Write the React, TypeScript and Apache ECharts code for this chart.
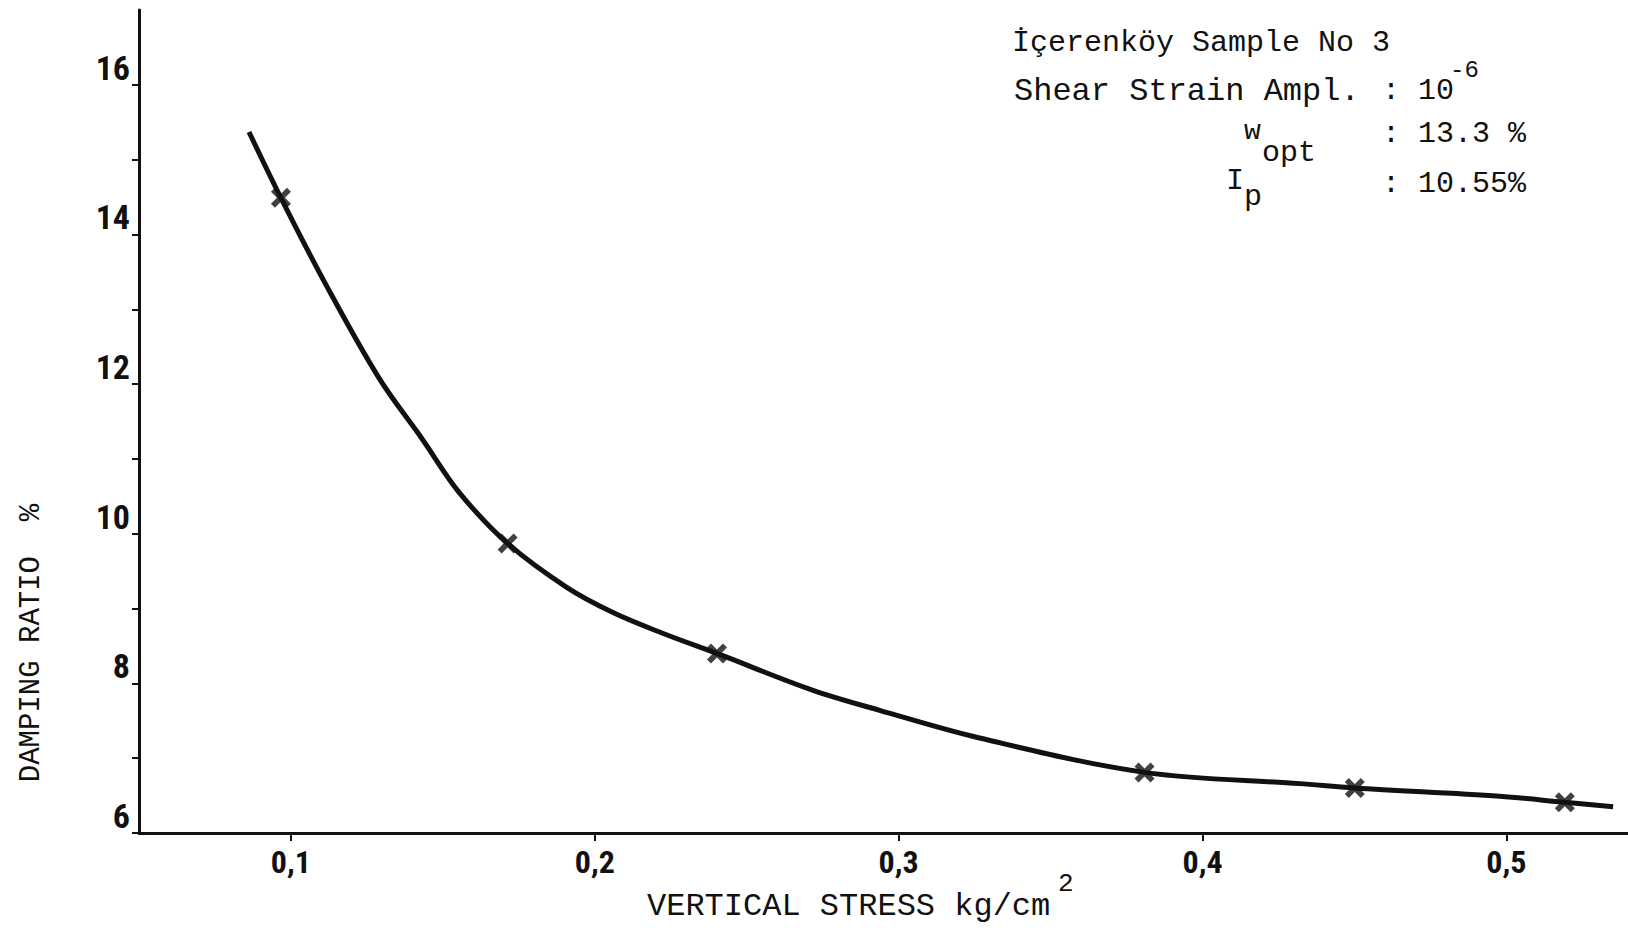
import React, { useEffect, useRef } from "react";
import * as echarts from "echarts";

// Curve (hand-drawn smooth line)
const curveX = [0.0862, 0.0967, 0.1115, 0.129, 0.1433, 0.1554, 0.1713, 0.1905, 0.2058, 0.2223, 0.2402, 0.2716, 0.2937, 0.3266, 0.3809, 0.4319, 0.4501, 0.4978, 0.5192, 0.5351];
const curveY = [15.37, 14.49, 13.33, 12.08, 11.26, 10.55, 9.87, 9.29, 8.95, 8.67, 8.4, 7.91, 7.64, 7.27, 6.81, 6.66, 6.6, 6.49, 6.41, 6.35];

// Measured points (× markers)
const pointX = [0.0967, 0.1713, 0.2402, 0.3809, 0.4501, 0.5192];
const pointY = [14.49, 9.87, 8.4, 6.81, 6.6, 6.41];

// Axes
const xTickValues = [0.1, 0.2, 0.3, 0.4, 0.5];
const yTickValues = [6, 7, 8, 9, 10, 11, 12, 13, 14, 15, 16];
const yLabelValues = [6, 8, 10, 12, 14, 16];

const xAxisTitle = "VERTICAL STRESS kg/cm";
const yAxisTitle = "DAMPING RATIO  %";
const noteTitle = "İçerenköy Sample No 3";
const noteStrain = "Shear Strain Ampl.";

const MONO = "'Liberation Mono', 'DejaVu Sans Mono', monospace";
const HAND = "'Roboto Condensed', 'Liberation Sans Narrow', Roboto, sans-serif";
const INK = "#111";

function txt(text: string, x: number, y: number, size: number, extra: any = {}) {
  return {
    type: "text",
    x,
    y,
    silent: true,
    ...extra,
    style: {
      text,
      fontFamily: MONO,
      fontSize: size,
      fill: INK,
      textAlign: extra.align || "left",
      align: extra.align || "left",
      textVerticalAlign: "middle",
      verticalAlign: "middle",
    },
  };
}

export default function App() {
  const ref = useRef<HTMLDivElement>(null);
  useEffect(() => {
    if (!ref.current) return;
    const chart = echarts.init(ref.current, null, { renderer: "svg" });
    const xSym = "path://M0,2L2,0L5,3L8,0L10,2L7,5L10,8L8,10L5,7L2,10L0,8L3,5Z";
    chart.setOption({
      animation: false,
      backgroundColor: "#ffffff",
      grid: { left: 139, right: 0, top: 10, bottom: 97, containLabel: false },
      xAxis: {
        type: "value",
        min: 0.05,
        max: 0.54,
        splitLine: { show: false },
        axisLine: { show: true, onZero: false, lineStyle: { color: INK, width: 3 } },
        axisTick: { show: true, customValues: xTickValues, length: 8, lineStyle: { color: INK, width: 2 } },
        axisLabel: {
          customValues: xTickValues,
          margin: 13,
          color: INK,
          fontFamily: HAND,
          fontWeight: "bold",
          fontSize: 32,
          formatter: (v: number) => v.toFixed(1).replace(".", ","),
        },
      },
      yAxis: {
        type: "value",
        min: 6,
        max: 17,
        splitLine: { show: false },
        axisLine: { show: true, onZero: false, lineStyle: { color: INK, width: 3 } },
        axisTick: { show: true, customValues: yTickValues, length: 7, lineStyle: { color: INK, width: 2 } },
        axisLabel: {
          customValues: yLabelValues,
          margin: 9,
          color: INK,
          fontFamily: HAND,
          fontWeight: "bold",
          fontSize: 34,
          verticalAlign: "bottom",
          formatter: (v: number) => String(v),
        },
      },
      series: [
        {
          type: "line",
          data: curveX.map((x, i) => [x, curveY[i]]),
          smooth: 0.35,
          showSymbol: false,
          symbol: "none",
          lineStyle: { color: INK, width: 5 },
          silent: true,
          z: 2,
        },
        {
          type: "scatter",
          data: pointX.map((x, i) => [x, pointY[i]]),
          symbol: xSym,
          symbolSize: 20,
          itemStyle: { color: INK },
          silent: true,
          z: 3,
        },
      ],
      graphic: [
        txt(noteTitle, 1012, 43, 30),
        txt(noteStrain, 1014, 91, 32),
        txt(": 10", 1382, 91, 30),
        txt("-6", 1450, 70, 24),
        txt("w", 1244, 131, 28),
        txt("opt", 1262, 153, 30),
        txt(": 13.3 %", 1382, 134, 30),
        txt("I", 1226, 181, 30),
        txt("p", 1244, 197, 30),
        txt(": 10.55%", 1382, 184, 30),
        txt(xAxisTitle, 647, 906, 32),
        txt("2", 1058, 884, 26),
        txt(yAxisTitle, 31, 643, 29, { rotation: Math.PI / 2, align: "center" }),
      ],
    });
    return () => chart.dispose();
  }, []);
  return (
    <div
      ref={ref}
      style={{ position: "fixed", left: 0, top: 0, width: 1628, height: 930, background: "#fff" }}
    />
  );
}
